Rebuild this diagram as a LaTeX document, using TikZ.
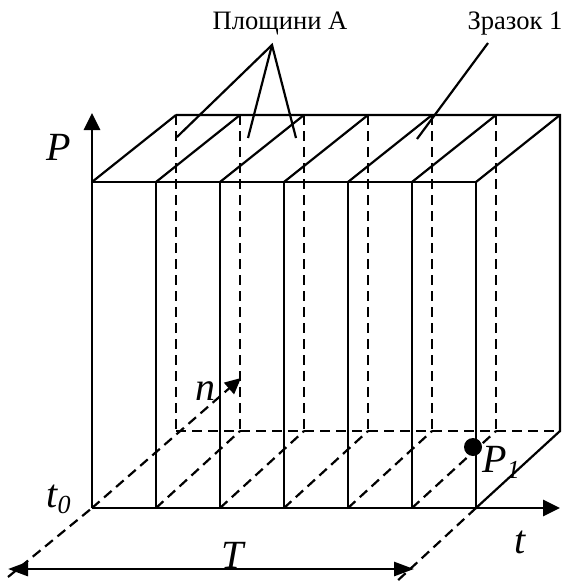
\documentclass[tikz,border=0pt]{standalone}
\usepackage{fontspec}
\setmainfont{Liberation Serif}
\usetikzlibrary{arrows.meta}
\newcommand{\lowsub}[1]{\raisebox{-0.35ex}{\fontsize{13}{13}\selectfont\itshape #1}}

\begin{document}
\begin{tikzpicture}[
      x=0.5pt, y=-0.5pt,
      every node/.style={inner sep=0pt},
      edge/.style={line width=1.1pt},
      hidden/.style={line width=1.1pt, dash pattern=on 5pt off 3pt},
      axis/.style={line width=1.4pt, -{Triangle[length=8.5pt,width=8pt]}},
      lbl/.style={font=\fontsize{13.3}{15}\selectfont},
      var/.style={font=\fontsize{20}{23}\selectfont\itshape},
    ]
    \useasboundingbox (0,0) rectangle (565,583);

    % Corners of the block (front face, back face)
    \coordinate (O)   at (92,508);
    \coordinate (FTL) at (92,182);
    \coordinate (FTR) at (476,182);
    \coordinate (FBR) at (476,508);
    \coordinate (BTL) at (176,115);
    \coordinate (BTR) at (560,115);
    \coordinate (BBL) at (176,431);
    \coordinate (BBR) at (560,431);

    % Hidden edges: back verticals, back bottom, floor diagonals
    \foreach \i in {0,...,5} {
      \draw[hidden] ({176+64*\i},115) -- ({176+64*\i},431);
    }
    \draw[hidden] (BBL) -- (BBR);
    \foreach \i in {1,...,5} {
      \draw[hidden] ({92+64*\i},508) -- ({176+64*\i},431);
    }
    \coordinate (Tend) at (395,583);
    \draw[hidden] (FBR) -- (Tend);

    % n axis
    \coordinate (nfar) at (8,577);
    \coordinate (ntip) at (241,378);
    \draw[hidden] (nfar) -- (O);
    \draw[hidden, -{Triangle[length=8pt,width=7.5pt]}] (O) -- (ntip);

    % Visible edges: front slices and top face
    \foreach \i in {1,...,6} {
      \draw[edge] ({92+64*\i},508) -- ({92+64*\i},182);
    }
    \foreach \i in {0,...,6} {
      \draw[edge] ({92+64*\i},182) -- ({176+64*\i},115);
    }
    \draw[edge] (FTL) -- (FTR);
    \draw[edge] (BTL) -- (BTR) -- (BBR) -- (FBR);

    % Axes
    \coordinate (Ptip) at (92,113);
    \coordinate (ttip) at (560,508);
    \draw[axis] (O) -- (Ptip);
    \draw[axis] (O) -- (ttip);
    \node[var, anchor=base west] (Plab) at (46,160) {P};
    \node[var, anchor=base] (tlab) at (520,553) {t};
    \node[var, anchor=base west] (t0lab) at (46,507) {t\lowsub{0}};
    \node[var, anchor=base west] (nlab) at (195,400) {n};

    % Period T
    \coordinate (Tl) at (8,569);
    \coordinate (Tr) at (414,569);
    \draw[axis, {Triangle[length=10pt,width=7pt]}-{Triangle[length=10pt,width=7pt]}]
      (Tl) -- (Tr);
    \node[var, anchor=base] (Tlab) at (233,568) {T};

    % Point P1
    \node[circle, fill, minimum size=9pt] (P1dot) at (473,447) {};
    \node[var, anchor=base west] (P1lab) at (482,472) {P\lowsub{1}};

    % Callouts
    \node[lbl, anchor=base] (planes) at (280,30) {Площини А};
    \node[lbl, anchor=base] (sample) at (515,30) {Зразок 1};
    \coordinate (apexA) at (272,45);
    \coordinate (pa1) at (177,137);
    \coordinate (pa2) at (248,138);
    \coordinate (pa3) at (296,138);
    \draw[edge] (pa1) -- (apexA) -- (pa3);
    \draw[edge] (apexA) -- (pa2);
    \coordinate (apexS) at (488,43);
    \coordinate (ps1) at (417,139);
    \draw[edge] (apexS) -- (ps1);
  \end{tikzpicture}
\end{document}
